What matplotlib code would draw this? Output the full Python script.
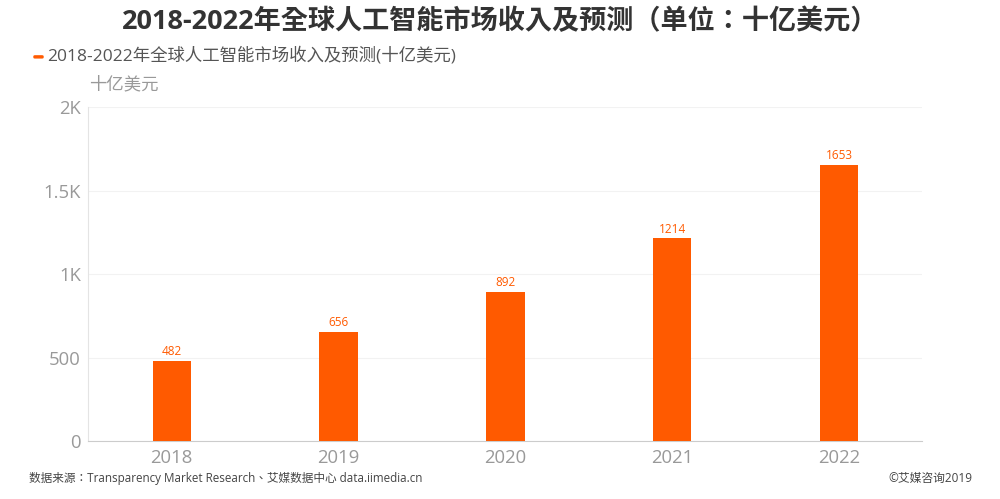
import matplotlib
matplotlib.use('Agg')
import matplotlib.pyplot as plt
from matplotlib.patches import FancyBboxPatch

plt.rcParams['font.family'] = ['Open Sans', 'Noto Sans CJK SC', 'DejaVu Sans']

years = ['2018', '2019', '2020', '2021', '2022']
revenue = [482, 656, 892, 1214, 1653]
yticks = [0, 500, 1000, 1500, 2000]
ylabels = ['0', '500', '1K', '1.5K', '2K']

orange = '#ff5a00'
grey = '#999999'
centred = ['Open Sans', 'Noto Sans CJK TC', 'DejaVu Sans']  # colon and brackets sit mid-cell

fig = plt.figure(figsize=(10, 4.99), dpi=100)
ax = fig.add_axes([0.088, 0.116, 0.834, 0.669])

ax.bar(years, revenue, width=0.23, color=orange, zorder=3)
for i, v in enumerate(revenue):
    ax.annotate(str(v), (i, v), xytext=(0, 2), textcoords='offset points',
                ha='center', va='bottom', fontsize=8.5, color=orange)

ax.set_xlim(-0.502, 4.498)
ax.set_ylim(0, 2000)
ax.set_yticks(yticks)
ax.set_yticklabels(ylabels)
ax.tick_params(axis='y', length=0, labelsize=13.3, labelcolor=grey, pad=5)
ax.tick_params(axis='x', length=0, labelsize=13.3, labelcolor=grey, pad=6)
ax.grid(axis='y', color='#f2f2f2', lw=0.8, zorder=0)
for s in ['top', 'right']:
    ax.spines[s].set_visible(False)
ax.spines['left'].set_color('#e4e4e4')
ax.spines['bottom'].set_color('#cccccc')

fig.text(0.5, 0.957, '2018-2022年全球人工智能市场收入及预测（单位：十亿美元）',
         ha='center', va='center', fontsize=19.5, fontweight='bold', color='#333333',
         family=centred)

# legend marker, small rounded dash
fig.add_artist(FancyBboxPatch((0.035, 0.885), 0.007, 0.002, boxstyle='round,pad=0.001',
                              color=orange, transform=fig.transFigure))
fig.text(0.0475, 0.888, '2018-2022年全球人工智能市场收入及预测(十亿美元)',
         ha='left', va='center', fontsize=12.55, color='#555555')
fig.text(0.089, 0.83, '十亿美元', ha='left', va='center', fontsize=12.5, color=grey)

fig.text(0.029, 0.041, '数据来源：Transparency Market Research、艾媒数据中心 data.iimedia.cn',
         ha='left', va='center', fontsize=8.4, color='#444444', family=centred)
fig.text(0.972, 0.041, '©艾媒咨询2019', ha='right', va='center', fontsize=8.5, color='#444444')

fig.savefig('out.png', dpi=100)
